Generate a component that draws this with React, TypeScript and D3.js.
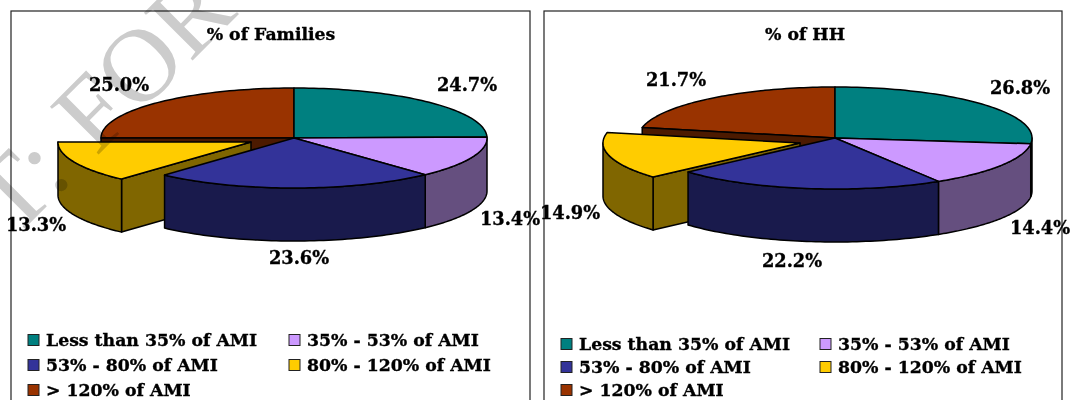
import React from "react";
import * as d3 from "d3";

const categories = ["Less than 35% of AMI", "35% - 53% of AMI", "53% - 80% of AMI", "80% - 120% of AMI", "> 120% of AMI"];
const familyShares = [24.7, 13.4, 23.6, 13.3, 25.0];
const householdShares = [26.8, 14.4, 22.2, 14.9, 21.7];
const topColors = ["#008080", "#CC99FF", "#333399", "#FFCC00", "#993300"];
const wallColors = ["#004040", "#654F7F", "#191A4C", "#806600", "#4C1A00"];

const FONT = "'DejaVu Serif', serif";
const TAU = Math.PI * 2;

type Layout = {
  title: string;
  titleX: number;
  frameX: number;
  frameW: number;
  cx: number;
  cy: number;
  rx: number;
  ry: number;
  depth: number;
  explode: [number, number];
  labels: [number, number][];
  legendX: [number, number];
  legendY: [number, number, number];
};

const line = d3.line<[number, number]>();

function PieChart({ values, layout }: { values: number[]; layout: Layout }) {
  const { cx, cy, rx, ry, depth, explode } = layout;
  const arcs = d3.pie<number>().sort(null).value((d) => d)(values);

  const pointAt = (a: number, ox: number, oy: number): [number, number] => [
    cx + ox + rx * Math.sin(a),
    cy + oy - ry * Math.cos(a),
  ];
  const rim = (a0: number, a1: number, ox: number, oy: number) =>
    d3.range(0, 61).map((i) => pointAt(a0 + ((a1 - a0) * i) / 60, ox, oy));

  const offset = (i: number): [number, number] => (i === 3 ? explode : [0, 0]);

  const topPath = (i: number) => {
    const [ox, oy] = offset(i);
    const arc = arcs[i];
    return line([[cx + ox, cy + oy], ...rim(arc.startAngle, arc.endAngle, ox, oy)]) + "Z";
  };

  // Outer wall: only the part of the rim that faces the viewer (quarter to three-quarter turn).
  const wallPath = (i: number) => {
    const [ox, oy] = offset(i);
    const a0 = Math.max(arcs[i].startAngle, TAU / 4);
    const a1 = Math.min(arcs[i].endAngle, (3 * TAU) / 4);
    if (a1 <= a0) return "";
    const upper = rim(a0, a1, ox, oy);
    const lower = upper.map(([x, y]): [number, number] => [x, y + depth]).reverse();
    return line([...upper, ...lower]) + "Z";
  };

  // Flat cut face running from the pie centre out to the rim at the given angle.
  const cutPath = (i: number, a: number) => {
    const [ox, oy] = offset(i);
    const [x, y] = pointAt(a, ox, oy);
    const c: [number, number] = [cx + ox, cy + oy];
    return (
      line([c, [x, y], [x, y + depth], [c[0], c[1] + depth]]) + "Z"
    );
  };

  const stroke = { stroke: "#000", strokeWidth: 1.5, strokeLinejoin: "round" as const };
  const wall = (i: number, d: string) => <path d={d} fill={wallColors[i]} {...stroke} />;
  const top = (i: number) => <path d={topPath(i)} fill={topColors[i]} {...stroke} />;

  return (
    <g fontFamily={FONT} fontWeight={700} fill="#000">
      <rect x={layout.frameX} y={11} width={layout.frameW} height={420} fill="none" stroke="#222" strokeWidth={1.2} />

      {top(4)}
      {wall(4, cutPath(4, arcs[4].startAngle))}
      {wall(0, wallPath(0))}
      {top(0)}
      {wall(3, cutPath(3, arcs[3].startAngle))}
      {wall(3, wallPath(3))}
      {top(3)}
      {wall(1, wallPath(1))}
      {top(1)}
      {wall(2, wallPath(2))}
      {top(2)}

      <g stroke="#000" strokeWidth={0.35}>
        <text x={layout.titleX} y={40} textAnchor="middle" fontSize={17.3}>{layout.title}</text>

        {values.map((v, i) => (
          <text key={i} x={layout.labels[i][0]} y={layout.labels[i][1]} textAnchor="middle" dominantBaseline="central" fontSize={17.8}>
            {v.toFixed(1)}%
          </text>
        ))}

        {categories.map((c, i) => {
          const x = layout.legendX[i % 2];
          const y = layout.legendY[Math.floor(i / 2)];
          return (
            <g key={c}>
              <rect x={x} y={y - 5.5} width={11} height={11} fill={topColors[i]} stroke="#222" strokeWidth={1} />
              <text x={x + 18} y={y} dominantBaseline="central" fontSize={17.3}>{c}</text>
            </g>
          );
        })}
      </g>
    </g>
  );
}

const familyLayout: Layout = {
  title: "% of Families",
  titleX: 271,
  frameX: 11,
  frameW: 519,
  cx: 294,
  cy: 138,
  rx: 193,
  ry: 50,
  depth: 53,
  explode: [-43, 4],
  labels: [[467, 84], [510, 218], [299, 257], [36, 224], [119, 84]],
  legendX: [28, 289],
  legendY: [340, 365, 390],
};

const householdLayout: Layout = {
  title: "% of HH",
  titleX: 805,
  frameX: 544,
  frameW: 518,
  cx: 835,
  cy: 138,
  rx: 197,
  ry: 51,
  depth: 53,
  explode: [-35, 5],
  labels: [[1020, 87], [1040, 227], [792, 260], [570, 212], [676, 79]],
  legendX: [561, 820],
  legendY: [344, 367, 390],
};

export default function App() {
  return (
    <svg width={1070} height={400} style={{ position: "absolute", left: 0, top: 0, display: "block" }}>
      <rect width={1070} height={400} fill="#fff" />
      <PieChart values={familyShares} layout={familyLayout} />
      <PieChart values={householdShares} layout={householdLayout} />
      <text
        transform="translate(-183,436) rotate(-45)"
        fontFamily="'Liberation Serif', serif"
        fontSize={104}
        fill="#cccccc"
        wordSpacing={4}
        style={{ mixBlendMode: "multiply" }}
      >
        DRAFT: FOR REVIEW
      </text>
    </svg>
  );
}
